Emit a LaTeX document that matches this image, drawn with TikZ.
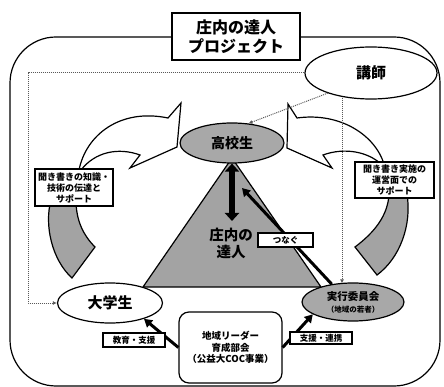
\documentclass[tikz,border=0pt]{standalone}
\usepackage{fontspec}
\setmainfont{Noto Sans CJK JP}
\usetikzlibrary{shapes.geometric,arrows.meta,calc}
\begin{document}
\begin{tikzpicture}[x=1pt,y=-1pt,
  line width=1.2pt,
  every node/.style={font=\bfseries},
  ell/.style={ellipse, draw, line width=1.2pt, inner sep=0pt},
  lbl/.style={draw, fill=white, line width=1.2pt, align=center, inner sep=0.8pt,
              font=\bfseries\fontsize{9}{11}\selectfont},
  dots/.style={densely dotted, gray!70!black, line width=1pt, -{Latex[length=4pt,width=4pt]}},
  thickarr/.style={line width=3pt, -{Triangle[length=8pt,width=9pt]}},
  shadefill/.style={fill=gray!72},
]
\useasboundingbox (0,0) rectangle (444,387);
% outer frame
\draw[rounded corners=46pt] (10,37) rectangle (440,386);

% triangle
\draw[shadefill] (232,158) -- (143,287) -- (321,287) -- cycle;
\node[font=\bfseries\fontsize{14.5}{17}\selectfont, align=center] (tatsujin) at (231,243) {庄内の\\達人};

% left curved arrow
\draw[shadefill] (51,200) .. controls (44,225) and (52,260) .. (72,278) -- (95,247)
  .. controls (83,235) and (76,220) .. (76,200) -- cycle;
\draw[fill=white] (79,170) .. controls (86,135) and (120,108) .. (168,118) -- (181,103)
  -- (177,147) -- (130,168) -- (140,155) .. controls (118,147) and (95,152) .. (81,170) -- cycle;
% right curved arrow
\draw[shadefill] (407,194) .. controls (412,225) and (400,258) .. (377,275) -- (355,247)
  .. controls (375,232) and (388,215) .. (389,194) -- cycle;
\draw[fill=white] (384,164) .. controls (375,135) and (340,112) .. (297,118) -- (288,104)
  -- (287,148) -- (332,168) -- (323,155) .. controls (345,147) and (368,152) .. (381,164) -- cycle;

% labels of curved arrows
\node[lbl, minimum width=78pt, minimum height=37pt] (lblL) at (74,187.5) {聞き書きの知識・\\技術の伝達と\\サポート};
\node[lbl, minimum width=79pt, minimum height=36pt] (lblR) at (394.5,180) {聞き書き実施の\\運営面での\\サポート};

% ellipses
\node[ell, fill=gray!68, minimum width=104pt, minimum height=40pt,
      font=\bfseries\fontsize{14}{16}\selectfont] (koko) at (232,143) {高校生};
\node[ell, fill=white, minimum width=105pt, minimum height=40pt,
      font=\bfseries\fontsize{15}{17}\selectfont] (daigaku) at (110,303) {大学生};
\node[ell, fill=gray!68, minimum width=102pt, minimum height=38pt, align=center,
      font=\bfseries\fontsize{10.5}{12}\selectfont] (jikko) at (353,302)
      {実行委員会\\{\fontsize{7.5}{9}\selectfont （地域の若者）}};
\node[ell, fill=white, minimum width=132pt, minimum height=52pt,
      font=\bfseries\fontsize{15}{17}\selectfont] (koshi) at (371,73) {講師};

% title
\node[draw, fill=white, minimum width=128pt, minimum height=47pt, align=center,
      font=\bfseries\fontsize{16}{19}\selectfont] (title) at (236,36.5) {庄内の達人\\プロジェクト};

% bottom box
\node[draw, fill=white, rounded corners=10pt, minimum width=103pt, minimum height=71pt,
      align=center, font=\bfseries\fontsize{9.5}{11.5}\selectfont] (coc) at (230.5,347.5)
      {地域リーダー\\育成部会\\（公益大COC事業）};

% dotted connectors
\coordinate (dl) at (28,0);
\draw[dots] (koshi.west) -- (koshi.west -| dl) -- (daigaku.west -| dl) -- (daigaku.west);
\draw[dots] ([xshift=-29pt,yshift=2pt]koshi.south) -- ([xshift=-11pt,yshift=-1pt]jikko.north);
\draw[dots] (koshi.205) -- (koko.50);

% thick arrows
\coordinate (da) at (232,221);
\draw[line width=6pt, {Triangle[length=8pt,width=14pt]}-{Triangle[length=8pt,width=14pt]}] (koko.south) -- (da);
\coordinate (kt) at (242,188);
\draw[thickarr] (jikko.140) -- (kt);
\node[lbl, minimum width=55pt, minimum height=14pt, font=\bfseries\fontsize{8.5}{9}\selectfont] (tsunagu) at (285.5,240) {つなぐ};

\draw[thickarr] (coc.west) -- (daigaku.-25);
\draw[thickarr] (coc.east) -- (jikko.197);
\node[lbl, minimum width=62pt, minimum height=14pt, font=\bfseries\fontsize{8.5}{9}\selectfont] (kyoiku) at (134,340) {教育・支援};
\node[lbl, minimum width=62pt, minimum height=12pt, font=\bfseries\fontsize{8.5}{9}\selectfont] (shien) at (321,338) {支援・連携};
\end{tikzpicture}
\end{document}
